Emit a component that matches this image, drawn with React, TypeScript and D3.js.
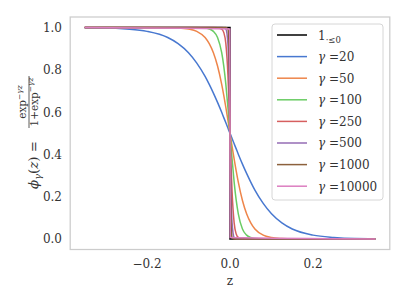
import React from "react";
import * as d3 from "d3";

// shared z grid, dense around 0
const zGrid = [
  -0.35, -0.3, -0.25, -0.2, -0.15, -0.125, -0.1, -0.08, -0.06, -0.05, -0.04, -0.03, -0.02, -0.015, -0.01, -0.005, -0.0025, 0,
  0.0025, 0.005, 0.01, 0.015, 0.02, 0.03, 0.04, 0.05, 0.06, 0.08, 0.1, 0.125, 0.15, 0.2, 0.25, 0.3, 0.35,
];

const g20 = [
  0.999, 0.998, 0.993, 0.982, 0.953, 0.924, 0.881, 0.832, 0.769, 0.731, 0.69, 0.646, 0.599, 0.574, 0.55, 0.525, 0.512, 0.5,
  0.488, 0.475, 0.45, 0.426, 0.401, 0.354, 0.31, 0.269, 0.231, 0.168, 0.119, 0.076, 0.047, 0.018, 0.007, 0.002, 0.001,
];
const g50 = [
  1, 1, 1, 1, 0.999, 0.998, 0.993, 0.982, 0.953, 0.924, 0.881, 0.818, 0.731, 0.679, 0.622, 0.562, 0.531, 0.5,
  0.469, 0.438, 0.378, 0.321, 0.269, 0.182, 0.119, 0.076, 0.047, 0.018, 0.007, 0.002, 0, 0, 0, 0, 0,
];
const g100 = [
  1, 1, 1, 1, 1, 1, 1, 1, 0.998, 0.993, 0.982, 0.953, 0.881, 0.818, 0.731, 0.622, 0.562, 0.5,
  0.438, 0.378, 0.269, 0.182, 0.119, 0.047, 0.018, 0.007, 0.002, 0, 0, 0, 0, 0, 0, 0, 0,
];
const g250 = [
  1, 1, 1, 1, 1, 1, 1, 1, 1, 1, 1, 0.999, 0.993, 0.977, 0.924, 0.777, 0.651, 0.5,
  0.349, 0.223, 0.076, 0.023, 0.007, 0.001, 0, 0, 0, 0, 0, 0, 0, 0, 0, 0, 0,
];
const g500 = [
  1, 1, 1, 1, 1, 1, 1, 1, 1, 1, 1, 1, 1, 0.999, 0.993, 0.924, 0.777, 0.5,
  0.223, 0.076, 0.007, 0.001, 0, 0, 0, 0, 0, 0, 0, 0, 0, 0, 0, 0, 0,
];
const g1000 = [
  1, 1, 1, 1, 1, 1, 1, 1, 1, 1, 1, 1, 1, 1, 1, 0.993, 0.924, 0.5,
  0.076, 0.007, 0, 0, 0, 0, 0, 0, 0, 0, 0, 0, 0, 0, 0, 0, 0,
];
// gamma = 10000 is practically a step, sampled on its own narrow grid
const z10000 = [-0.35, -0.0005, 0, 0.0005, 0.35];
const g10000 = [1, 0.993, 0.5, 0.007, 0];

// indicator 1_{z<=0}
const stepZ = [-0.35, 0, 0, 0.35];
const stepY = [1, 1, 0, 0];

const gammas = ["20", "50", "100", "250", "500", "1000", "10000"];
const gammaZ = [zGrid, zGrid, zGrid, zGrid, zGrid, zGrid, z10000];
const gammaSeries = [g20, g50, g100, g250, g500, g1000, g10000];
const colors = ["#4878d0", "#ee854a", "#6acc64", "#d65f5f", "#956cb4", "#8c613c", "#dc7ec0"];

const xTicks = [-0.2, 0, 0.2];
const yTicks = [0, 0.2, 0.4, 0.6, 0.8, 1.0];

const W = 407;
const H = 305;
const font = "'DejaVu Serif', serif";

export default function App() {
  const x = d3.scaleLinear().domain([-0.385, 0.385]).range([70.2, 389.8]);
  const y = d3.scaleLinear().domain([-0.05, 1.05]).range([249.5, 17]);

  const lineFor = (zs: number[]) =>
    d3
      .line<number>()
      .x((d, i) => x(zs[i]))
      .y((d) => y(d))
      .curve(d3.curveMonotoneX);
  const straight = d3
    .line<number>()
    .x((d, i) => x(stepZ[i]))
    .y((d) => y(d));

  const fmt = d3.format(".1f");
  const tickLabel = (v: number) => fmt(v).replace("-", "\u2212");

  const legendX = 272;
  const legendY = 24;
  const rowH = 21.6;
  const fs = 12;
  const ink = "#333333";

  return (
    <svg width={W} height={H} style={{ position: "absolute", left: 0, top: 0, fontFamily: font }}>
      <rect x={0} y={0} width={W} height={H} fill="#fff" />

      {/* lines */}
      <path d={straight(stepY) || ""} fill="none" stroke="#000" strokeWidth={1.5} />
      {gammaSeries.map((s, i) => (
        <path key={i} d={lineFor(gammaZ[i])(s) || ""} fill="none" stroke={colors[i]} strokeWidth={1.5} />
      ))}

      {/* frame */}
      <rect
        x={x(-0.385)}
        y={y(1.05)}
        width={x(0.385) - x(-0.385)}
        height={y(-0.05) - y(1.05)}
        fill="none"
        stroke="#cccccc"
        strokeWidth={1.25}
      />

      {/* y ticks */}
      {yTicks.map((t) => (
        <text key={t} x={62} y={y(t) + 4.4} textAnchor="end" fontSize={fs} fill={ink}>
          {tickLabel(t)}
        </text>
      ))}
      {/* x ticks */}
      {xTicks.map((t) => (
        <text key={t} x={x(t)} y={267.5} textAnchor="middle" fontSize={fs} fill={ink}>
          {tickLabel(t)}
        </text>
      ))}
      <text x={x(0)} y={284.5} textAnchor="middle" fontSize={fs} fill={ink}>
        z
      </text>

      {/* y label: phi_gamma(z) = exp^{-gz} / (1+exp^{-gz}) */}
      <g transform="rotate(-90)" fill={ink}>
        <text x={-189} y={37.5} fontSize={13.5}>
          <tspan fontStyle="italic">ϕ</tspan>
          <tspan fontStyle="italic" fontSize={9.5} dy={3}>γ</tspan>
          <tspan dy={-3}>(</tspan>
          <tspan fontStyle="italic">z</tspan>
          <tspan>) =</tspan>
        </text>
        <text x={-102} y={26} fontSize={10.5} textAnchor="middle">
          <tspan>exp</tspan>
          <tspan fontSize={7.5} dy={-4.5}>−</tspan>
          <tspan fontSize={7.5} fontStyle="italic">γz</tspan>
        </text>
        <line x1={-128} x2={-76} y1={29} y2={29} stroke={ink} strokeWidth={0.8} />
        <text x={-102} y={37.5} fontSize={10.5} textAnchor="middle">
          <tspan>1+exp</tspan>
          <tspan fontSize={7.5} dy={-4.5}>−</tspan>
          <tspan fontSize={7.5} fontStyle="italic">γz</tspan>
        </text>
      </g>

      {/* legend */}
      <rect
        x={legendX}
        y={legendY}
        width={111}
        height={176}
        rx={3}
        fill="#fff"
        fillOpacity={0.8}
        stroke="#d6d6d6"
        strokeWidth={1}
      />
      <g>
        <line x1={277} x2={307} y1={legendY + 11} y2={legendY + 11} stroke="#000" strokeWidth={1.5} />
        <text x={318} y={legendY + 15.5} fontSize={fs} fill={ink}>
          <tspan>1</tspan>
          <tspan fontSize={8.5} dy={3}>·≤0</tspan>
        </text>
      </g>
      {gammas.map((g, i) => {
        const ry = legendY + 11 + (i + 1) * rowH;
        return (
          <g key={g}>
            <line x1={277} x2={307} y1={ry} y2={ry} stroke={colors[i]} strokeWidth={1.5} />
            <text x={318} y={ry + 4.4} fontSize={fs} fill={ink}>
              <tspan fontStyle="italic">γ</tspan>
              <tspan> =</tspan>
              <tspan>{g}</tspan>
            </text>
          </g>
        );
      })}
    </svg>
  );
}
